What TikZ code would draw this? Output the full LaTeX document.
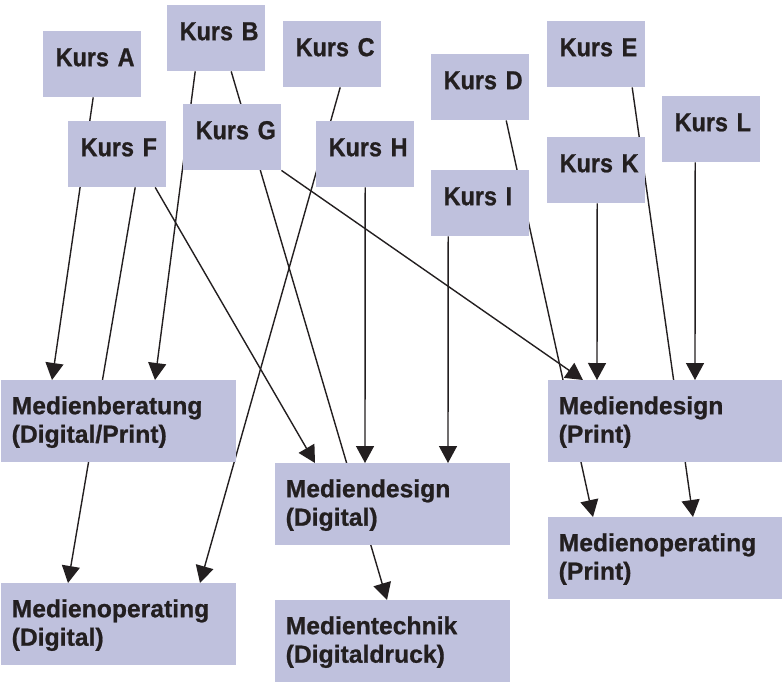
\documentclass[tikz,border=0pt]{standalone}
\usepackage{fontspec}
\setmainfont{Liberation Sans}
\newfontfamily\zielfont{Liberation Sans}[UprightFont={* Bold}, FakeBold=0.8]
\newfontfamily\kursfont{Liberation Sans}[UprightFont={* Bold}, FakeStretch=0.9, FakeBold=0.8]
\usetikzlibrary{arrows.meta}
\definecolor{boxfill}{RGB}{191,193,221}
\definecolor{ink}{RGB}{35,31,32}
\pgfdeclarelayer{background}
\pgfsetlayers{background,main}
\tikzset{
  kurs/.style={anchor=north west, fill=boxfill, text=ink, inner xsep=12.5pt, inner ysep=0pt,
    text width=73pt, text height=35pt, text depth=31pt, align=left,
    font=\kursfont\fontsize{26}{30}\selectfont},
  ziel/.style={anchor=north west, fill=boxfill, text=ink, inner xsep=10.5pt, inner ysep=0pt,
    text width=214pt, text height=34pt, text depth=48pt, align=left,
    font=\zielfont\fontsize{24.7}{28.5}\selectfont},
  conn/.style={draw=ink, line width=1.4pt, -{Triangle[length=17pt,width=18pt]}}
}
\begin{document}
\begin{tikzpicture}[x=1pt,y=-1pt]
\useasboundingbox (0,0) rectangle (782,681);
% course boxes
\node[kurs] (A) at (43,31) {\mbox{Kurs A}};
\node[kurs] (B) at (167,5) {\mbox{Kurs B}};
\node[kurs] (C) at (283,21) {\mbox{Kurs C}};
\node[kurs] (D) at (431,54) {\mbox{Kurs D}};
\node[kurs] (E) at (547,21) {\mbox{Kurs E}};
\node[kurs] (F) at (68,121) {\mbox{Kurs F}};
\node[kurs] (G) at (183,104) {\mbox{Kurs G}};
\node[kurs] (H) at (316,121) {\mbox{Kurs H}};
\node[kurs] (I) at (431,170) {\mbox{Kurs I}};
\node[kurs] (K) at (547,137) {\mbox{Kurs K}};
\node[kurs] (L) at (662,96) {\mbox{Kurs L}};
% target boxes
\node[ziel] (MB) at (1,380) {Medienberatung\\(Digital/Print)};
\node[ziel] (MDP) at (548,380) {Mediendesign\\(Print)};
\node[ziel] (MDD) at (275,463) {Mediendesign\\(Digital)};
\node[ziel] (MOP) at (548,517) {Medienoperating\\(Print)};
\node[ziel] (MOD) at (1,583) {Medienoperating\\(Digital)};
\node[ziel] (MT) at (275,600) {Medientechnik\\(Digitaldruck)};
% connectors
\begin{pgfonlayer}{background}
\draw[conn] ([xshift=1pt]A.south) -- ([xshift=51pt]MB.north west);
\draw[conn] ([xshift=-21pt]B.south) -- ([xshift=154pt]MB.north west);
\draw[conn] ([xshift=15pt]B.south) -- ([xshift=112pt]MT.north west);
\draw[conn] ([xshift=8pt]C.south) -- ([xshift=199pt]MOD.north west);
\draw[conn] ([xshift=18pt]F.south) -- ([xshift=67pt]MOD.north west);
\draw[conn] ([xshift=38pt]F.south) -- ([xshift=40pt]MDD.north west);
\draw[conn] (G.south east) -- ([xshift=35pt]MDP.north west);
\draw[conn] (H.south) -- ([xshift=90pt]MDD.north west);
\draw[conn] ([xshift=-32pt]I.south) -- ([xshift=173pt]MDD.north west);
\draw[conn] ([xshift=26pt]D.south) -- ([xshift=45pt]MOP.north west);
\draw[conn] ([xshift=36pt]E.south) -- ([xshift=145pt]MOP.north west);
\draw[conn] ([xshift=1pt]K.south) -- ([xshift=49pt]MDP.north west);
\draw[conn] ([xshift=-16pt]L.south) -- ([xshift=147pt]MDP.north west);
\end{pgfonlayer}
\end{tikzpicture}
\end{document}
